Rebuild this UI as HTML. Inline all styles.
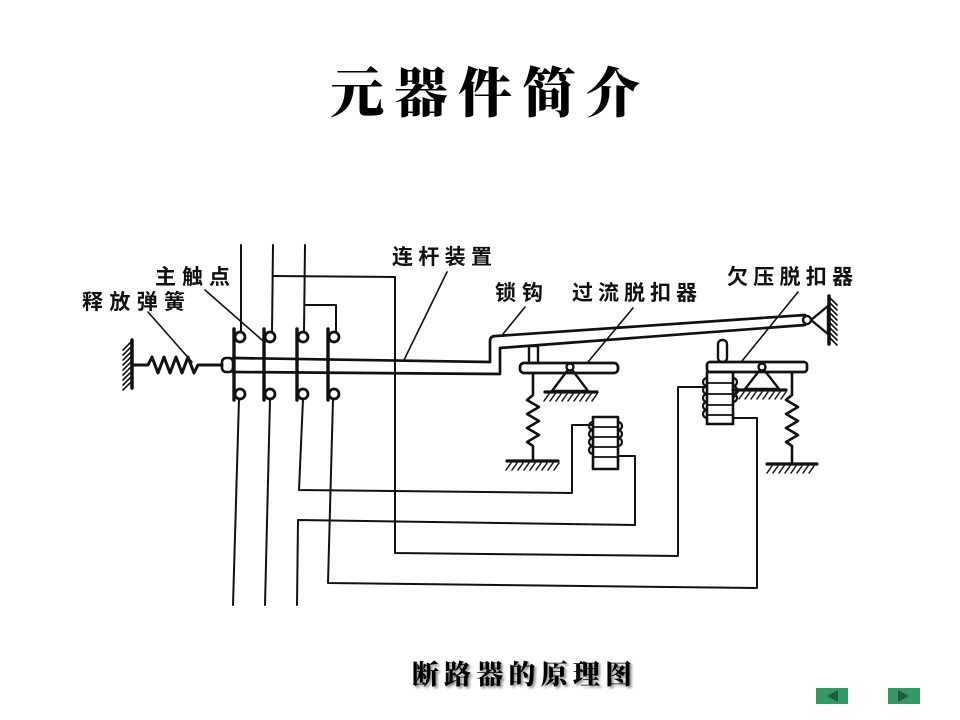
<!DOCTYPE html>
<html><head><meta charset="utf-8"><style>
html,body{margin:0;padding:0;background:#fff;}
svg{display:block;}
</style></head><body>
<svg width="960" height="720" viewBox="0 0 960 720" xmlns="http://www.w3.org/2000/svg">
<defs>
<filter id="sh" x="-5%" y="-20%" width="115%" height="160%"><feGaussianBlur in="SourceAlpha" stdDeviation="1.2"/><feOffset dx="2" dy="2" result="o"/><feComponentTransfer><feFuncA type="linear" slope="0.45"/></feComponentTransfer><feMerge><feMergeNode/><feMergeNode in="SourceGraphic"/></feMerge></filter>
</defs>
<rect width="960" height="720" fill="#fff"/>
<!-- title -->
<text x="330" y="112" font-family="'Liberation Serif','Noto Serif CJK SC',serif" font-weight="900" font-size="54" textLength="310" lengthAdjust="spacing" fill="#000">元器件简介</text>

<g fill="none" stroke="#111" stroke-width="2.4" stroke-linejoin="round" stroke-linecap="round">
<!-- left wall -->
<line x1="132" y1="340" x2="132" y2="388" stroke-width="3.5"/>
<path d="M131 342l-8 8M131 347l-8 8M131 352l-8 8M131 357l-8 8M131 362l-8 8M131 367l-8 8M131 372l-8 8M131 377l-8 8M131 382l-8 8" stroke-width="1.6"/>
<!-- release spring -->
<polyline stroke-width="3" points="132,365 148,365 152,357 158,373 164,357 170,373 176,357 182,373 188,357 194,373 198,365 222,365"/>
<!-- rod end -->
<rect x="222" y="358" width="11" height="14" rx="4" stroke-width="2.6"/>
<!-- rod + lever -->
<path d="M233 358 L490 362 L490 341 Q490 336 496 336 L805 315" stroke-width="2.7"/>
<path d="M233 372 L500 374 L500 348 L805 325" stroke-width="2.7"/>
<circle cx="807" cy="320" r="4"/>
<polygon points="811,320 828,306 828,334"/>
<line x1="829" y1="296" x2="829" y2="344" stroke-width="3.5"/>
<path d="M830 298l7 7M830 303l7 7M830 308l7 7M830 313l7 7M830 318l7 7M830 323l7 7M830 328l7 7M830 333l7 7M830 338l7 7" stroke-width="1.6"/>

<!-- contacts -->
<g stroke-width="3.4">
<line x1="234" y1="329" x2="234" y2="400"/>
<line x1="264" y1="329" x2="264" y2="400"/>
<line x1="297" y1="329" x2="297" y2="400"/>
<line x1="328" y1="329" x2="328" y2="400"/>
</g>
<g stroke-width="2.8">
<circle cx="240" cy="337" r="5"/><circle cx="270" cy="337" r="5"/><circle cx="303" cy="337" r="5"/><circle cx="334" cy="337" r="5"/>
<circle cx="240" cy="394" r="5"/><circle cx="270" cy="394" r="5"/><circle cx="303" cy="394" r="5"/><circle cx="334" cy="394" r="5"/>
</g>

<!-- top wires -->
<g stroke-width="2">
<line x1="241" y1="245" x2="241" y2="332"/>
<line x1="273" y1="245" x2="272" y2="332"/>
<line x1="305" y1="245" x2="304" y2="332"/>
<polyline points="273,276 395,277 395,553 678,556 678,387 706,387"/>
<polyline points="305,305 336,305 336,332"/>
<!-- bottom wires -->
<line x1="239" y1="399" x2="233" y2="605"/>
<line x1="270" y1="399" x2="265" y2="605"/>
<polyline points="303,399 299,490 572,493 572,425 593,425"/>
<polyline points="333,399 328,583 757,588 757,418 733,418"/>
<polyline points="618,456 635,456 635,525 298,520 297,605"/>
</g>

<!-- overcurrent release -->
<rect x="529" y="346" width="9" height="17"/>
<rect x="520" y="363" width="98" height="10" rx="4" stroke-width="2.7"/>
<circle cx="570" cy="367" r="3.5"/>
<polyline points="567,371 552,391 588,391 573,371"/>
<line x1="545" y1="392" x2="597" y2="392" stroke-width="3.2"/>
<path d="M549 394l-5 7M555 394l-5 7M561 394l-5 7M567 394l-5 7M573 394l-5 7M579 394l-5 7M585 394l-5 7M591 394l-5 7M597 394l-5 7" stroke-width="1.5"/>
<polyline stroke-width="2.6" points="533,373 533,395 527,400 539,407 527,414 539,421 527,428 539,435 527,442 533,446 533,460"/>
<line x1="507" y1="461" x2="558" y2="461" stroke-width="3.2"/>
<path d="M511 463l-5 7M517 463l-5 7M523 463l-5 7M529 463l-5 7M535 463l-5 7M541 463l-5 7M547 463l-5 7M553 463l-5 7M559 463l-5 7" stroke-width="1.5"/>
<!-- overcurrent coil -->
<rect x="593" y="417" width="25" height="52" stroke-width="2.6"/>
<path d="M593 427h25M593 437h25M593 447h25M593 457h25" stroke-width="1.8"/>
<path d="M593 422a4 4 0 0 0 0 8a4 4 0 0 0 0 8a4 4 0 0 0 0 8a4 4 0 0 0 0 8" stroke-width="2.2"/>
<path d="M618 422a4 4 0 0 1 0 8a4 4 0 0 1 0 8a4 4 0 0 1 0 8" stroke-width="2.2"/>

<!-- undervoltage release -->
<rect x="718" y="340" width="9" height="22" rx="4"/>
<rect x="707" y="362" width="100" height="10" rx="3" stroke-width="2.7"/>
<circle cx="762" cy="367" r="3.5"/>
<polyline points="759,371 745,389 779,389 765,371"/>
<line x1="733" y1="390" x2="786" y2="390" stroke-width="3.2"/>
<path d="M738 392l-5 7M744 392l-5 7M750 392l-5 7M756 392l-5 7M762 392l-5 7M768 392l-5 7M774 392l-5 7M780 392l-5 7M786 392l-5 7" stroke-width="1.5"/>
<polyline stroke-width="2.6" points="792,372 792,395 786,400 798,407 786,414 798,421 786,428 798,435 786,442 792,446 792,463"/>
<line x1="767" y1="464" x2="817" y2="464" stroke-width="3.2"/>
<path d="M772 466l-5 7M778 466l-5 7M784 466l-5 7M790 466l-5 7M796 466l-5 7M802 466l-5 7M808 466l-5 7M814 466l-5 7" stroke-width="1.5"/>
<!-- undervoltage coil -->
<rect x="707" y="372" width="26" height="52" stroke-width="2.6"/>
<path d="M707 383h26M707 394h26M707 405h26M707 415h26" stroke-width="1.8"/>
<path d="M707 378a4 4 0 0 0 0 8a4 4 0 0 0 0 8a4 4 0 0 0 0 8a4 4 0 0 0 0 8a4 4 0 0 0 0 8" stroke-width="2.2"/>
<path d="M733 378a4 4 0 0 1 0 8a4 4 0 0 1 0 8a4 4 0 0 1 0 8" stroke-width="2.2"/>

<!-- leader lines -->
<g stroke-width="1.6">
<line x1="148" y1="312" x2="192" y2="362"/>
<line x1="205" y1="290" x2="262" y2="340"/>
<line x1="447" y1="272" x2="404" y2="360"/>
<line x1="525" y1="307" x2="503" y2="334"/>
<line x1="633" y1="308" x2="588" y2="362"/>
<line x1="798" y1="292" x2="742" y2="361"/>
</g>
</g>

<!-- labels -->
<g font-family="'Liberation Sans','Noto Sans CJK SC',sans-serif" font-weight="bold" font-size="21" fill="#111">
<text x="82" y="309" textLength="103" lengthAdjust="spacing">释放弹簧</text>
<text x="155" y="284" textLength="75" lengthAdjust="spacing">主触点</text>
<text x="392" y="264" textLength="100" lengthAdjust="spacing">连杆装置</text>
<text x="495" y="300" textLength="48" lengthAdjust="spacing">锁钩</text>
<text x="572" y="300" textLength="125" lengthAdjust="spacing">过流脱扣器</text>
<text x="727" y="284" textLength="126" lengthAdjust="spacing">欠压脱扣器</text>
</g>

<!-- caption -->
<text x="412" y="684" font-family="'Liberation Serif','Noto Serif CJK SC',serif" font-weight="900" font-size="27" textLength="220" lengthAdjust="spacing" fill="#000" filter="url(#sh)">断路器的原理图</text>

<!-- nav buttons -->
<rect x="816" y="688" width="32" height="16" fill="#339966"/>
<polygon points="827,696 838,690 838,702" fill="#1d5e3c"/>
<rect x="888" y="688" width="32" height="16" fill="#339966"/>
<polygon points="909,696 898,690 898,702" fill="#1d5e3c"/>
</svg>
</body></html>
